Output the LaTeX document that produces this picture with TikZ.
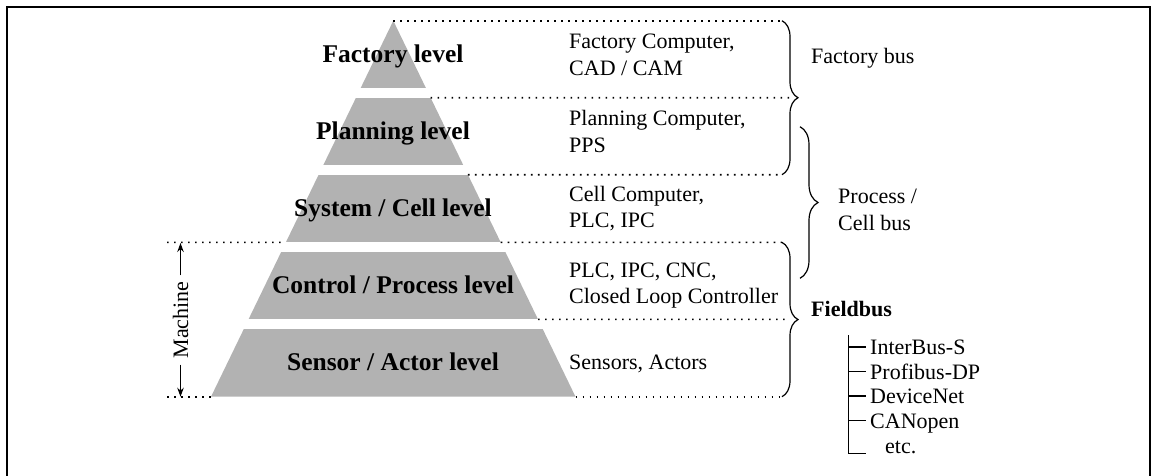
\documentclass[tikz,border=0pt]{standalone}
\usepackage{fontspec}
\setmainfont{Liberation Serif}
\usetikzlibrary{calc}
\usetikzlibrary{arrows.meta}
\usetikzlibrary{decorations.pathreplacing}

\tikzset{
 dotline/.style={line width=1.6pt, dash pattern=on 1.6pt off 5.4pt},
 levelname/.style={font=\fontsize{25.5}{30}\selectfont\bfseries, inner sep=0pt, anchor=base},
 devices/.style={font=\fontsize{22}{26.7}\selectfont, align=left, anchor=west, inner sep=0pt},
 bus/.style={decorate, decoration={brace, amplitude=#1}, line width=1.2pt},
 busname/.style={font=\fontsize{22}{26.7}\selectfont, align=left, anchor=west, inner sep=0pt},
 fieldbus/.style={font=\fontsize{22}{26.7}\selectfont, anchor=west, inner xsep=4pt, inner ysep=0pt, text height=15pt, text depth=0pt},
}

\begin{document}
\begin{tikzpicture}[x=1pt, y=-1pt]
\useasboundingbox (0,0) rectangle (1162,475);
\draw[line width=2.5pt] (7,480) |- (1150,7) -- (1150,480);

% pyramid
\coordinate (A) at (393.3,20.7);
\coordinate (L) at (211,396.7);
\coordinate (R) at (575.5,396.7);
\fill[black!30] (A) -- (L) -- (R) -- cycle;
\foreach \y in {88.4,165.4,242.4,319.4}
 \fill[white] (200,\y) rectangle (590,\y+9.3);

\node[levelname] (factory) at (393,62.5) {Factory level};
\node[levelname] (planning) at (393,139.5) {Planning level};
\node[levelname] (system) at (393,216.5) {System / Cell level};
\node[levelname] (control) at (393,293.5) {Control / Process level};
\node[levelname] (sensor) at (393,370.5) {Sensor / Actor level};

\node[devices] (facdev) at (569,54.5) {Factory Computer,\\CAD / CAM};
\node[devices] (plandev) at (569,131.5) {Planning Computer,\\PPS};
\node[devices] (sysdev) at (569,208.5) {Cell Computer,\\PLC, IPC};
\node[devices] (condev) at (569,285.5) {PLC, IPC, CNC,\\Closed Loop Controller};
\node[devices] (sendev) at (569,363.5) {Sensors, Actors};

% brace ends
\coordinate (b1top) at (782,20.7);
\coordinate (b1mid) at (790,97.7);
\coordinate (b1bot) at (782,174.7);
\coordinate (b2top) at (800,126.7);
\coordinate (b2bot) at (800,278.3);
\coordinate (b3top) at (782,242.4);
\coordinate (b3mid) at (790,319.4);
\coordinate (b3bot) at (782,396.7);

\draw[dotline] (A) -- (b1top);
\draw[dotline] ($(A)!0.2048!(R)$) -- (b1mid);
\draw[dotline] ($(A)!0.4096!(R)$) -- (b1bot);
\draw[dotline] ($(A)!0.5896!(R)$) -- (b3top);
\draw[dotline] ($(A)!0.7944!(R)$) -- (b3mid);
\draw[dotline] (R) -- (b3bot);
\draw[dotline] (167,242.4) -- ($(A)!0.5896!(L)$);
\draw[dotline] (167,396.7) -- (L);

\draw[bus=16pt] (b1top) -- (b1bot);
\draw[bus=18pt] (b2top) -- (b2bot);
\draw[bus=16pt] (b3top) -- (b3bot);

\node[busname] (facbus) at (811,58) {Factory bus};
\node[busname] (procbus) at (838,209.7) {Process /\\Cell bus};
\node[busname, font=\fontsize{22}{26.7}\selectfont\bfseries, anchor=base west] (fbus) at (811,316.7) {Fieldbus};

% machine
\node[font=\fontsize{22}{26.7}\selectfont, rotate=90, inner sep=6pt] (machine) at (180.5,320) {Machine};
\coordinate (mtop) at (180.5,243);
\coordinate (mbot) at (180.5,396.7);
\draw[-{Stealth[length=9pt, width=6.5pt]}, line width=1.2pt] (machine.east) -- (mtop);
\draw[-{Stealth[length=9pt, width=6.5pt]}, line width=1.2pt] (machine.west) -- (mbot);

% fieldbus tree
\coordinate (trunk) at (848.3,335);
\foreach \n/\y/\t in {ibs/347/InterBus-S, pdp/371.5/Profibus-DP, dnet/396/DeviceNet, cano/420.5/CANopen}{
 \node[fieldbus] (\n) at (866,\y) {\t};
 \draw[line width=1.2pt] (trunk |- \n.west) -- (\n.west);
}
\node[fieldbus] (etc) at (866,446) {\hspace{15pt}etc.};
\draw[line width=1.2pt] (trunk) |- (etc.base west);
\end{tikzpicture}
\end{document}
